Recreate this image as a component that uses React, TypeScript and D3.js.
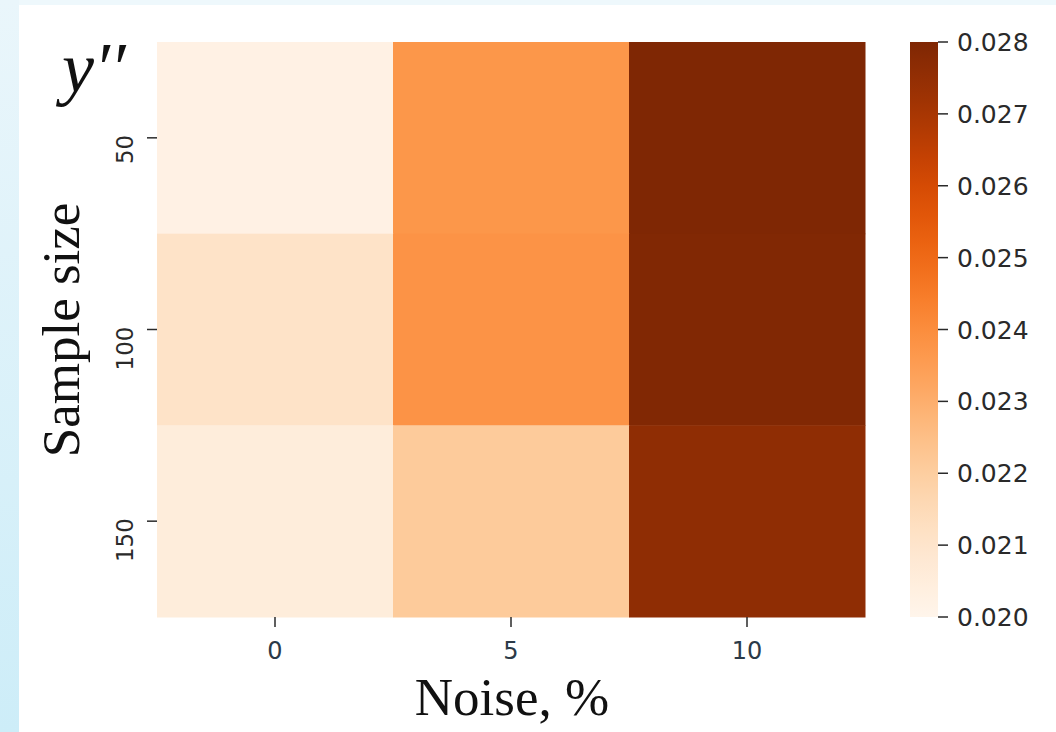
import React from "react";
import * as d3 from "d3";

const noiseLevels = ["0", "5", "10"];
const sampleSizes = ["50", "100", "150"];
// values[row][col] : row = sample size, col = noise
const row50 = [0.02025, 0.0237, 0.028];
const row100 = [0.0211, 0.0238, 0.02795];
const row150 = [0.02055, 0.0221, 0.0276];
const values = [row50, row100, row150];
const colorTicks = [0.020, 0.021, 0.022, 0.023, 0.024, 0.025, 0.026, 0.027, 0.028];
const colorDomain = [0.020, 0.028];

export default function App() {
  const W = 1056, H = 732;
  const left = 157, right = 865, top = 42, bottom = 617;
  const x = d3.scaleBand().domain(noiseLevels).range([left, right]);
  const y = d3.scaleBand().domain(sampleSizes).range([top, bottom]);
  const color = d3.scaleSequential(d3.interpolateOranges).domain(colorDomain as [number, number]);
  const cbX = 910, cbW = 28;
  const cy = d3.scaleLinear().domain(colorDomain).range([bottom, top]);
  const stops = d3.range(0, 1.0001, 0.05);
  const tickFont = "DejaVu Sans, sans-serif";
  const tickColor = "#2a2a2a";
  return (
    <svg width={W} height={H} style={{ position: "absolute", left: 0, top: 0, display: "block" }}>
      <defs>
        <linearGradient id="cb" x1="0" y1="1" x2="0" y2="0">
          {stops.map((s) => (
            <stop key={s} offset={s} stopColor={d3.interpolateOranges(s)} />
          ))}
        </linearGradient>
        <linearGradient id="bgL" x1="0" y1="0" x2="0" y2="1">
          <stop offset="0" stopColor="#eaf6fb" />
          <stop offset="1" stopColor="#cdedf8" />
        </linearGradient>
      </defs>
      <rect x={0} y={0} width={W} height={H} fill="#ffffff" />
      <rect x={0} y={0} width={W} height={5} fill="#eef8fc" />
      <rect x={0} y={0} width={19} height={H} fill="url(#bgL)" />

      {values.map((row, ri) =>
        row.map((v, ci) => (
          <rect
            key={`${ri}-${ci}`}
            x={x(noiseLevels[ci])}
            y={y(sampleSizes[ri])}
            width={x.bandwidth() + 0.5}
            height={y.bandwidth() + 0.5}
            fill={color(v)}
          />
        ))
      )}

      {noiseLevels.map((n) => {
        const cx = (x(n) as number) + x.bandwidth() / 2;
        return (
          <g key={n}>
            <line x1={cx} x2={cx} y1={bottom} y2={bottom + 10} stroke={tickColor} strokeWidth={1.5} />
            <text x={cx} y={659} textAnchor="middle" fontFamily={tickFont} fontSize={24} fill="#2b3a48">
              {n}
            </text>
          </g>
        );
      })}
      {sampleSizes.map((s) => {
        const cyy = (y(s) as number) + y.bandwidth() / 2;
        return (
          <g key={s}>
            <line x1={left - 10} x2={left} y1={cyy} y2={cyy} stroke={tickColor} strokeWidth={1.5} />
            <text
              transform={`translate(133,${cyy - 3}) rotate(-90)`}
              textAnchor="end"
              fontFamily={tickFont}
              fontSize={23}
              fill={tickColor}
            >
              {s}
            </text>
          </g>
        );
      })}

      <text x={512} y={715} textAnchor="middle" fontFamily="Liberation Serif, serif" fontSize={53} fill="#111">
        Noise, %
      </text>
      <text
        transform={`translate(79,330) rotate(-90)`}
        textAnchor="middle"
        fontFamily="Liberation Serif, serif"
        fontSize={53}
        fill="#111"
      >
        Sample size
      </text>
      <text x={62} y={92} fontFamily="Liberation Serif, serif" fontStyle="italic" fontSize={72} fill="#111">
        y′′
      </text>

      <rect x={cbX} y={top} width={cbW} height={bottom - top} fill="url(#cb)" />
      {colorTicks.map((t) => (
        <g key={t}>
          <line x1={cbX + cbW} x2={cbX + cbW + 10} y1={cy(t)} y2={cy(t)} stroke={tickColor} strokeWidth={1.5} />
          <text
            x={957}
            y={cy(t)}
            dy="0.36em"
            fontFamily={tickFont}
            fontSize={25}
            fill={tickColor}
          >
            {t.toFixed(3)}
          </text>
        </g>
      ))}
    </svg>
  );
}
